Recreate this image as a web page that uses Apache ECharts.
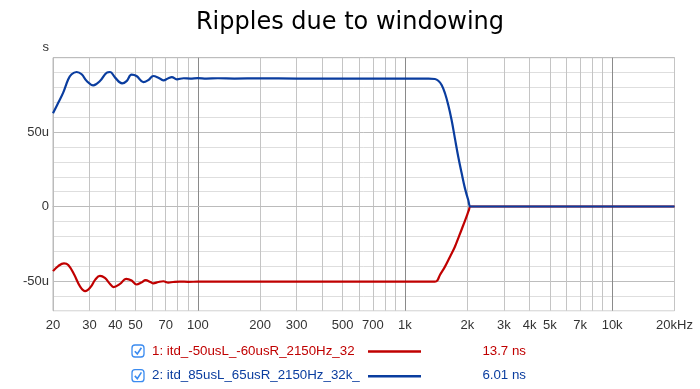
<!DOCTYPE html>
<html><head><meta charset="utf-8">
<script src="https://cdn.jsdelivr.net/npm/echarts@6/dist/echarts.min.js"></script>
<style>html,body{margin:0;padding:0;background:#fff}#c{width:700px;height:389px}</style>
</head><body><div id="c"></div>
<script>
const chartTitle = 'Ripples due to windowing';
const yUnit = 's';
const xGridValues = [20,30,40,50,60,70,80,90,100,200,300,400,500,600,700,800,900,1000,2000,3000,4000,5000,6000,7000,8000,9000,10000,20000];
const xLabelValues = [20,30,40,50,70,100,200,300,500,700,1000,2000,3000,4000,5000,7000,10000,20000];
const yLabelValues = [-50,0,50];
const seriesNames = ['1: itd_-50usL_-60usR_2150Hz_32', '2: itd_85usL_65usR_2150Hz_32k_'];
const seriesDelays = ['13.7 ns', '6.01 ns'];

const redFreq = [20, 21.2, 22.6, 23.7, 25.3, 27.0, 28.6, 30.3, 32.0, 33.7, 35.6, 37.7, 39.2, 42.1, 45.1, 47.9, 50.6, 53.4, 56.0, 59.0, 61.0, 64.5, 68.2, 72.1, 76, 82, 90, 100, 150, 300, 600, 1000, 1300, 1395, 1431, 1475, 1560, 1650, 1742, 1828, 1899, 1976, 2030, 2074, 2200, 3000, 6000, 20000];
const redVal  = [-43.4, -40, -38.2, -39.3, -45.7, -53.6, -56.8, -54.3, -49.1, -46.6, -48, -52, -54.1, -52, -48.6, -49.7, -52.4, -51.1, -49.5, -50.7, -51.6, -50.7, -50.2, -51.1, -50.7, -50.4, -50.6, -50.5, -50.5, -50.5, -50.5, -50.5, -50.5, -50.5, -49.8, -46.0, -40.4, -33.7, -27.0, -19.6, -13.6, -7.3, -2.8, 0, 0, 0, 0, 0];

const blueFreq = [20, 21.2, 22.4, 23.7, 24.6, 26.0, 27.5, 29.1, 31.3, 33.7, 36.4, 37.7, 39.9, 43.1, 45.3, 47.9, 50.6, 54.6, 57.7, 61.0, 64.5, 68.2, 72.1, 74.9, 79.2, 85.4, 92, 100, 110, 125, 150, 200, 300, 600, 1000, 1300, 1395, 1448, 1503, 1560, 1618, 1679, 1742, 1808, 1878, 1948, 2020, 2074, 2200, 3000, 6000, 20000];
const blueVal  = [62.6, 69.7, 76.5, 85.5, 88.9, 90.4, 88.9, 84.3, 81.4, 84.3, 90, 90.4, 86.6, 82.8, 84.3, 88.6, 87.7, 83.6, 85, 87.7, 86.6, 84.8, 86.2, 87, 85.5, 86.2, 86.0, 86.3, 86.0, 86.2, 86.0, 86.1, 86.0, 86.0, 86.0, 86.0, 85.7, 84.5, 81.7, 76.1, 68.2, 58.1, 45.8, 33.5, 22.3, 12.2, 4.4, 0, 0, 0, 0, 0];

const colors = ['#c00000', '#0a3d9f'];
const FONT = '"Liberation Sans", Arial, sans-serif';

function zip(a, b) { return a.map((v, i) => [v, b[i]]); }

const graphics = [];
seriesNames.forEach((n, i) => {
  const cy = 351 + i * 24.7;
  graphics.push({type: 'rect', shape: {x: 132, y: cy - 6, width: 12, height: 12, r: 3},
    style: {fill: '#fff', stroke: '#3a8bf0', lineWidth: 1.3}});
  graphics.push({type: 'polyline', shape: {points: [[134.8, cy + 0.2], [137.3, cy + 2.9], [141.4, cy - 3.3]]},
    style: {stroke: '#3a8bf0', lineWidth: 1.6, fill: null}});
  graphics.push({type: 'text', x: 152, y: cy,
    style: {text: n, fill: colors[i], font: '13.3px ' + FONT, textAlign: 'left', textVerticalAlign: 'middle', align: 'left', verticalAlign: 'middle'}});
  graphics.push({type: 'line', shape: {x1: 368, y1: cy + 0.5, x2: 421, y2: cy + 0.5},
    style: {stroke: colors[i], lineWidth: 2.5}});
  graphics.push({type: 'text', x: 526, y: cy,
    style: {text: seriesDelays[i], fill: colors[i], font: '13.3px ' + FONT, textAlign: 'right', textVerticalAlign: 'middle', align: 'right', verticalAlign: 'middle'}});
});

const chart = echarts.init(document.getElementById('c'), null, {renderer: 'canvas'});
chart.setOption({
  animation: false,
  backgroundColor: '#fff',
  title: {text: chartTitle, left: 'center', top: 6,
    textStyle: {fontFamily: '"DejaVu Sans", sans-serif', fontSize: 24, fontWeight: 'normal', color: '#000'}},
  graphic: graphics,
  grid: {left: 53, right: 25.5, top: 57.7, bottom: 78.3, show: true, borderColor: '#bbb', borderWidth: 1},
  xAxis: {
    type: 'log', logBase: 10, min: 20, max: 20000,
    axisLine: {show: true, lineStyle: {color: '#bbb'}},
    axisTick: {show: false, customValues: xGridValues},
    axisLabel: {customValues: xLabelValues, margin: 8, color: '#333', fontFamily: FONT, fontSize: 13,
      formatter: function (v) {
        const r = Math.round(v);
        if (r >= 20000) return (r / 1000) + 'kHz';
        if (r >= 1000) return (r / 1000) + 'k';
        return String(r);
      }},
    splitLine: {show: true, lineStyle: {width: 1,
      color: ['#c4c4c4', '#c4c4c4', '#c4c4c4', '#c4c4c4', '#c4c4c4', '#c4c4c4', '#c4c4c4', '#c4c4c4', '#8a8a8a']}},
    minorTick: {show: false}, minorSplitLine: {show: false}
  },
  yAxis: {
    type: 'value', min: -70, max: 100, interval: 10,
    name: yUnit, nameLocation: 'end', nameGap: 4,
    nameTextStyle: {color: '#333', fontFamily: FONT, fontSize: 13, align: 'right', padding: [0, 4, 0, 0]},
    axisLine: {show: true, lineStyle: {color: '#bbb'}},
    axisTick: {show: false},
    axisLabel: {margin: 4, color: '#333', fontFamily: FONT, fontSize: 13,
      formatter: function (v) {
        const r = Math.round(v);
        if (yLabelValues.indexOf(r) < 0) return '';
        return r === 0 ? '0' : r + 'u';
      }},
    splitLine: {show: true, lineStyle: {width: 1, color: ['#dedede', '#dedede', '#bdbdbd', '#dedede', '#dedede']}}
  },
  series: [
    {type: 'line', name: seriesNames[0], data: zip(redFreq, redVal), showSymbol: false, smooth: 0.4,
      lineStyle: {color: colors[0], width: 2.2}, itemStyle: {color: colors[0]}},
    {type: 'line', name: seriesNames[1], data: zip(blueFreq, blueVal), showSymbol: false, smooth: 0.4,
      lineStyle: {color: colors[1], width: 2.2}, itemStyle: {color: colors[1]}}
  ]
});
</script>
</body></html>
